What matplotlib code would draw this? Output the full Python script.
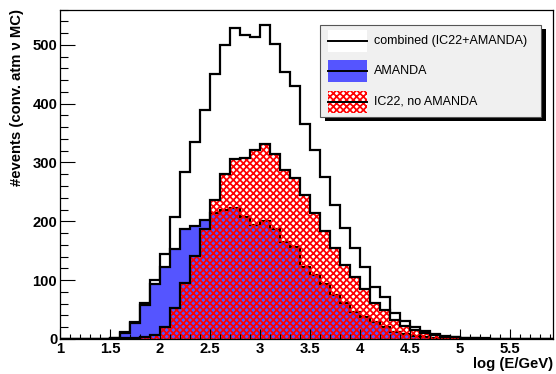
import numpy as np
import matplotlib
matplotlib.use("Agg")
import matplotlib.pyplot as plt
from matplotlib.ticker import MultipleLocator, FuncFormatter
from matplotlib.patches import Rectangle

plt.rcParams['font.family'] = ['Liberation Sans', 'DejaVu Sans']
plt.rcParams['hatch.linewidth'] = 1.25

# bin edges log(E/GeV), 0.1 wide
edges = np.round(np.arange(1.0, 6.01, 0.1), 2)

# combined (IC22+AMANDA), bins 1.0 ... 5.9
combined = [0, 0, 0, 0, 0, 2, 12, 29, 61, 100,
            145, 207, 284, 334, 389, 450, 499, 529, 516, 513,
            534, 502, 453, 430, 365, 321, 276, 228, 188, 155,
            123, 89, 72, 45, 30, 21, 14, 9, 5, 3,
            2, 1, 1, 0, 0, 0, 0, 0, 0, 0]
# AMANDA
amanda = [0, 0, 0, 0, 0, 2, 10, 28, 58, 93,
          122, 153, 187, 192, 202, 214, 219, 222, 208, 193,
          200, 187, 165, 157, 122, 108, 94, 75, 61, 46,
          38, 29, 21, 12, 8, 5, 3, 2, 1, 0,
          0, 0, 0, 0, 0, 0, 0, 0, 0, 0]
# IC22, no AMANDA
ic22 = [0, 0, 0, 0, 0, 0, 1, 1, 3, 7,
        21, 53, 96, 141, 187, 236, 281, 306, 307, 321,
        332, 315, 288, 274, 245, 214, 184, 155, 125, 105,
        85, 62, 50, 33, 22, 16, 10, 7, 4, 3,
        2, 1, 0, 0, 0, 0, 0, 0, 0, 0]

labels = ["combined (IC22+AMANDA)", "AMANDA", "IC22, no AMANDA"]

blue = '#5555ff'
pattern = 'xxxxx'

fig = plt.figure(figsize=(5.56, 3.74), dpi=100)
W, H = 556, 374
ax = fig.add_axes([60 / W, 1 - 339 / H, 493 / W, 329.5 / H])

ax.stairs(combined, edges, fill=True, facecolor='white', edgecolor='none')
ax.stairs(combined, edges, color='black', lw=1.6)
ax.stairs(amanda, edges, fill=True, facecolor=blue, edgecolor='none')
ax.stairs(amanda, edges, color='black', lw=1.6)
ax.stairs(ic22, edges, fill=True, facecolor='none', edgecolor='red', hatch=pattern, lw=0)
ax.stairs(ic22, edges, color='black', lw=1.6)

ax.set_xlim(1, 5.93)
ax.set_ylim(0, 560)
ax.xaxis.set_major_locator(MultipleLocator(0.5))
ax.xaxis.set_minor_locator(MultipleLocator(0.1))
ax.yaxis.set_major_locator(MultipleLocator(100))
ax.yaxis.set_minor_locator(MultipleLocator(20))
ax.xaxis.set_major_formatter(FuncFormatter(lambda v, p: '%g' % v))
ax.tick_params(which='both', direction='in', top=False, right=False, width=0.8)
ax.tick_params(axis='y', which='major', length=10.8, pad=2)
ax.tick_params(axis='y', which='minor', length=5.4)
ax.tick_params(axis='x', which='major', length=7.2, pad=2)
ax.tick_params(axis='x', which='minor', length=3.6)
for t in ax.get_xticklabels() + ax.get_yticklabels():
    t.set_fontsize(10.7)
    t.set_fontweight('bold')
for s in ax.spines.values():
    s.set_linewidth(0.9)

ax.set_ylabel("#events (conv. atm \u03bd MC)", fontsize=10.7, fontweight='bold', loc='top', labelpad=6)
ax.set_xlabel("log (E/GeV)", fontsize=10.7, fontweight='bold', loc='right', labelpad=1)

# legend box drawn in figure pixels
def fx(x):
    return x / W

def fy(y):
    return 1 - y / H

fig.patches.append(Rectangle((fx(325), fy(121)), 221 / W, 92 / H, transform=fig.transFigure,
                             facecolor='black', edgecolor='none', zorder=5))
fig.patches.append(Rectangle((fx(320), fy(117)), 221 / W, 92 / H, transform=fig.transFigure,
                             facecolor='#f0f0f0', edgecolor='#555555', lw=0.8, zorder=6))
ys = [41, 71, 102]
styles = [dict(facecolor='white'), dict(facecolor=blue),
          dict(facecolor='white', edgecolor='red', hatch=pattern, lw=0)]
for yc, st, lab in zip(ys, styles, labels):
    fig.patches.append(Rectangle((fx(328), fy(yc + 11)), 39 / W, 22 / H, transform=fig.transFigure,
                                 zorder=7, **({'edgecolor': 'none'} | st)))
    fig.lines.append(plt.Line2D([fx(328), fx(367)], [fy(yc), fy(yc)], transform=fig.transFigure,
                                color='black', lw=1.4, zorder=8))
    fig.text(fx(374), fy(yc), lab, fontsize=9, va='center', ha='left', zorder=8)

fig.savefig('out.png', dpi=100)
